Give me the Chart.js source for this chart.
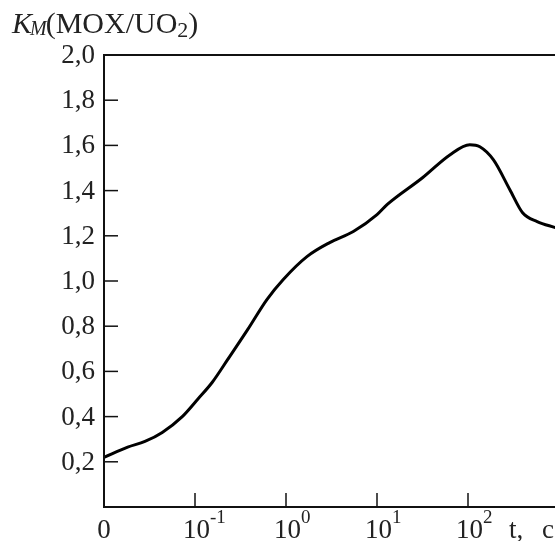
<!DOCTYPE html>
<html>
<head>
<meta charset="utf-8">
<script src="https://cdn.jsdelivr.net/npm/chart.js@4/dist/chart.umd.min.js"></script>
<style>
  html, body { margin: 0; padding: 0; background: #fff; }
  #wrap { width: 555px; height: 541px; }
</style>
</head>
<body>
<div id="wrap"><canvas id="chart"></canvas></div>
<script>
// position on the x axis: 0 -> "0", 1 -> 10^-1, 2 -> 10^0, 3 -> 10^1, 4 -> 10^2
const xPos = [0, 0.26, 0.45, 0.64, 0.86, 1.03, 1.19, 1.36, 1.58, 1.79, 1.97, 2.23, 2.48, 2.74, 3.00, 3.11, 3.50, 3.80, 4.02, 4.13, 4.28, 4.46, 4.60, 4.76, 4.96];
const kmValues = [0.22, 0.265, 0.29, 0.33, 0.40, 0.477, 0.552, 0.653, 0.786, 0.918, 1.007, 1.108, 1.17, 1.219, 1.294, 1.338, 1.457, 1.558, 1.603, 1.594, 1.536, 1.404, 1.302, 1.263, 1.236];

const xTickPos = [0, 1, 2, 3, 4];
const xTickBase = ["0", "10", "10", "10", "10"];
const xTickExp = ["", "-1", "0", "1", "2"];
const yTicks = [0.2, 0.4, 0.6, 0.8, 1.0, 1.2, 1.4, 1.6, 1.8, 2.0];

const points = xPos.map((x, i) => ({ x: x, y: kmValues[i] }));

const serif = '"Liberation Serif", "DejaVu Serif", serif';

const axesPlugin = {
    id: "axesPlugin",
    afterDraw(chart) {
        const ctx = chart.ctx;
        const xs = chart.scales.x;
        const ys = chart.scales.y;
        const area = chart.chartArea;
        ctx.save();

        // frame: left, bottom, top
        ctx.strokeStyle = "#111";
        ctx.lineWidth = 2;
        ctx.beginPath();
        ctx.moveTo(area.right + 2, area.top);
        ctx.lineTo(area.left, area.top);
        ctx.lineTo(area.left, area.bottom);
        ctx.lineTo(area.right + 2, area.bottom);
        ctx.stroke();

        // y ticks and labels
        ctx.font = "27px " + serif;
        ctx.fillStyle = "#222";
        ctx.textAlign = "right";
        ctx.textBaseline = "middle";
        ctx.lineWidth = 1.5;
        yTicks.forEach(v => {
            const py = ys.getPixelForValue(v);
            if (v < 2) {
                ctx.beginPath();
                ctx.moveTo(area.left, py);
                ctx.lineTo(area.left + 14, py);
                ctx.stroke();
            }
            ctx.fillText(v.toFixed(1).replace(".", ","), area.left - 9, py + 1);
        });

        // x ticks and labels
        ctx.textBaseline = "alphabetic";
        xTickPos.forEach((v, i) => {
            const px = xs.getPixelForValue(v);
            if (v > 0) {
                ctx.beginPath();
                ctx.moveTo(px, area.bottom);
                ctx.lineTo(px, area.bottom - 14);
                ctx.stroke();
            }
            ctx.font = "27px " + serif;
            const bw = ctx.measureText(xTickBase[i]).width;
            const start = v > 0 ? px - 12 : px - bw / 2;
            ctx.textAlign = "left";
            ctx.fillText(xTickBase[i], start, area.bottom + 31);
            ctx.font = "19px " + serif;
            ctx.fillText(xTickExp[i], start + bw, area.bottom + 16);
        });
        ctx.font = "27px " + serif;
        ctx.textAlign = "left";
        ctx.fillText("t,", 509, area.bottom + 31);
        ctx.fillText("c", 542, area.bottom + 31);

        // axis title K_M(MOX/UO2)
        let x = 12;
        const base = 33;
        ctx.font = "italic 30px " + serif;
        ctx.fillText("K", x, base);
        x += ctx.measureText("K").width - 2;
        ctx.font = "italic 20px " + serif;
        ctx.fillText("M", x, base + 2);
        x += ctx.measureText("M").width - 1;
        ctx.font = "30px " + serif;
        ctx.fillText("(MOX/UO", x, base);
        x += ctx.measureText("(MOX/UO").width;
        ctx.font = "22px " + serif;
        ctx.fillText("2", x, base + 4);
        x += ctx.measureText("2").width;
        ctx.font = "30px " + serif;
        ctx.fillText(")", x, base);

        ctx.restore();
    }
};

new Chart(document.getElementById("chart"), {
    type: "line",
    data: {
        datasets: [{
            data: points,
            borderColor: "#000",
            borderWidth: 3,
            pointRadius: 0,
            cubicInterpolationMode: "monotone",
            fill: false
        }]
    },
    options: {
        responsive: true,
        maintainAspectRatio: false,
        animation: false,
        layout: { padding: { left: 104, top: 55, right: 0, bottom: 34 } },
        plugins: { legend: { display: false }, tooltip: { enabled: false } },
        scales: {
            x: { type: "linear", display: false, min: 0, max: 4.956 },
            y: { type: "linear", display: false, min: 0, max: 2.0 }
        }
    },
    plugins: [axesPlugin]
});
</script>
</body>
</html>
